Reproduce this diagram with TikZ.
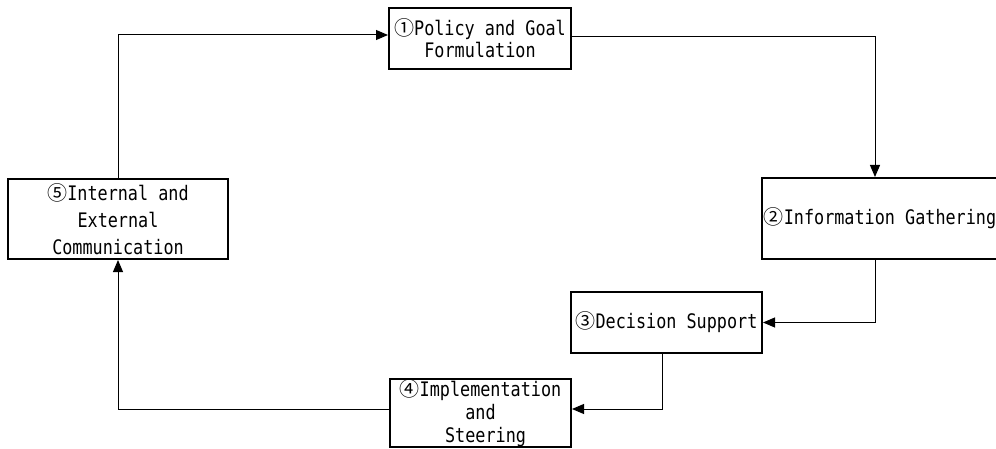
\documentclass[tikz,border=0pt]{standalone}
\usepackage{fontspec}
\usepackage{tikz}
\usetikzlibrary{arrows.meta}
\newfontfamily\gothic{DejaVu Sans Mono}[FakeStretch=0.84]
\newfontfamily\circfont{Noto Sans CJK JP}
\newcommand{\circnum}[1]{{\circfont #1}}

\begin{document}
\begin{tikzpicture}[x=0.5pt,y=-0.5pt,
  >={Triangle[length=6pt,width=5pt]},
  stagebox/.style={draw,line width=1pt,rectangle,inner sep=0pt,align=center,
    font=\gothic\fontsize{10}{11}\selectfont},
  link/.style={line width=0.5pt,->}]
\useasboundingbox (0,0) rectangle (996,449);

\node[stagebox,minimum width=91pt,minimum height=30.5pt] (policy) at (480,38.5)
  {\circnum{①}Policy and Goal\\Formulation};
\node[stagebox,minimum width=118pt,minimum height=40.5pt] (info) at (880,218.5)
  {\circnum{②}Information Gathering};
\node[stagebox,minimum width=95.5pt,minimum height=30.5pt] (decision) at (666.5,322.5)
  {\circnum{③}Decision Support};
\node[stagebox,minimum width=90.5pt,minimum height=34pt,
  font=\gothic\fontsize{10}{11.5}\selectfont] (implement) at (480.5,413)
  {\circnum{④}Implementation\\and\\\mbox{\ }Steering};
\node[stagebox,minimum width=110pt,minimum height=40pt,
  font=\gothic\fontsize{10}{13.5}\selectfont] (comm) at (118,219)
  {\circnum{⑤}Internal and\\External\\Communication};

% the cycle
\draw[link] (comm.north) |- ([yshift=1.75pt]policy.west);
\draw[link] ([yshift=0.75pt]policy.east) -| ([xshift=-2.5pt]info.north);
\draw[link] ([xshift=-2.5pt]info.south) |- (decision.east);
\draw[link] ([xshift=-2.25pt]decision.south) |- ([yshift=2pt]implement.east);
\draw[link] ([yshift=2pt]implement.west) -| (comm.south);
\end{tikzpicture}
\end{document}
